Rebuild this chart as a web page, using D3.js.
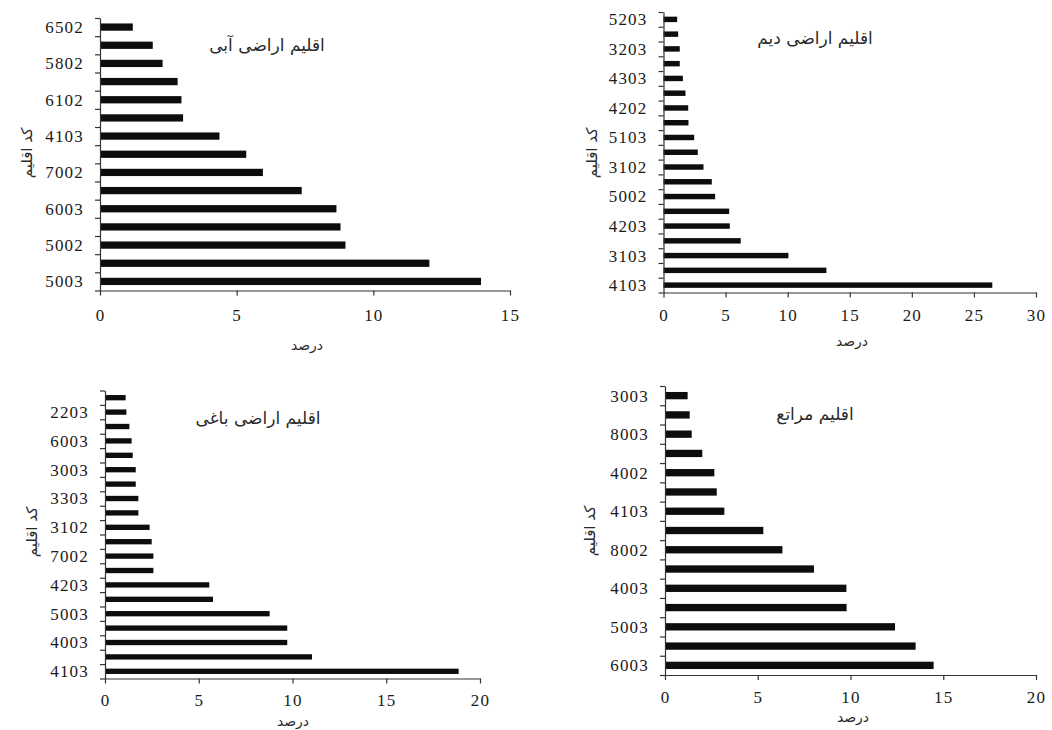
<!DOCTYPE html>
<html>
<head>
<meta charset="utf-8">
<script src="https://cdn.jsdelivr.net/npm/d3@7"></script>
<style>
  html, body { margin: 0; padding: 0; background: #fff; }
  svg { display: block; }
  .num { font-family: "Liberation Serif", "Times New Roman", serif; font-size: 17px; fill: #1a1a1a; letter-spacing: 1.2px; }
  .fa { font-family: "DejaVu Sans", "Noto Sans", sans-serif; fill: #2a2a2a; }
</style>
</head>
<body>
<svg id="chart" width="1052" height="730"></svg>
<script>
// ---- Data ----
// Panel 1: اقلیم اراضی آبی (top to bottom)
const p1Codes  = ["6502", "", "5802", "", "6102", "", "4103", "", "7002", "", "6003", "", "5002", "", "5003"];
const p1Values = [1.2, 1.93, 2.29, 2.84, 2.98, 3.04, 4.37, 5.35, 5.96, 7.38, 8.65, 8.8, 8.98, 12.05, 13.94];
const p1Ticks  = [0, 5, 10, 15];

// Panel 2: اقلیم اراضی دیم
const p2Codes  = ["5203", "", "3203", "", "4303", "", "4202", "", "5103", "", "3102", "", "5002", "", "4203", "", "3103", "", "4103"];
const p2Values = [1.1, 1.18, 1.31, 1.31, 1.56, 1.77, 1.99, 2.01, 2.47, 2.76, 3.22, 3.89, 4.16, 5.29, 5.34, 6.22, 10.06, 13.12, 26.48];
const p2Ticks  = [0, 5, 10, 15, 20, 25, 30];

// Panel 3: اقلیم اراضی باغی
const p3Codes  = ["", "2203", "", "6003", "", "3003", "", "3303", "", "3102", "", "7002", "", "4203", "", "5003", "", "4003", "", "4103"];
const p3Values = [1.1, 1.14, 1.3, 1.42, 1.48, 1.64, 1.64, 1.78, 1.78, 2.38, 2.49, 2.58, 2.58, 5.56, 5.76, 8.78, 9.72, 9.72, 11.04, 18.86];
const p3Ticks  = [0, 5, 10, 15, 20];

// Panel 4: اقلیم مراتع
const p4Codes  = ["3003", "", "8003", "", "4002", "", "4103", "", "8002", "", "4003", "", "5003", "", "6003"];
const p4Values = [1.22, 1.33, 1.44, 2.01, 2.66, 2.79, 3.2, 5.3, 6.33, 8.03, 9.78, 9.79, 12.4, 13.51, 14.48];
const p4Ticks  = [0, 5, 10, 15, 20];

const titles = ["اقلیم اراضی آبی", "اقلیم اراضی دیم", "اقلیم اراضی باغی", "اقلیم مراتع"];
const xLabel = "درصد";
const yLabel = "کد اقلیم";

// ---- Layout ----
const panels = [
  { codes: p1Codes, values: p1Values, ticks: p1Ticks, title: titles[0],
    x0: 100, x1: 510, y0: 18, y1: 290.5, thick: 0.4,
    titlePos: [267, 45], yLabPos: [27, 153], xLabPos: [307, 345], tickDy: 30 },
  { codes: p2Codes, values: p2Values, ticks: p2Ticks, title: titles[1],
    x0: 663.5, x1: 1036, y0: 12, y1: 292.5, thick: 0.37,
    titlePos: [815, 38], yLabPos: [592, 153], xLabPos: [852, 341], tickDy: 28 },
  { codes: p3Codes, values: p3Values, ticks: p3Ticks, title: titles[2],
    x0: 105, x1: 480, y0: 390.5, y1: 678.5, thick: 0.37,
    titlePos: [258, 418], yLabPos: [32, 532], xLabPos: [293, 721], tickDy: 27 },
  { codes: p4Codes, values: p4Values, ticks: p4Ticks, title: titles[3],
    x0: 665, x1: 1036, y0: 386, y1: 675, thick: 0.38,
    titlePos: [815, 414], yLabPos: [590, 531], xLabPos: [853, 717], tickDy: 28 }
];

const svg = d3.select("#chart");

panels.forEach(p => {
  const n = p.values.length;
  const g = svg.append("g");
  const x = d3.scaleLinear()
    .domain([0, d3.max(p.ticks)])
    .range([p.x0, p.x1]);
  const yIdx = d3.range(n);
  const y = d3.scaleBand()
    .domain(yIdx)
    .range([p.y0, p.y1])
    .paddingInner(1 - p.thick)
    .paddingOuter((1 - p.thick) / 2);
  const yb = d3.scaleLinear().domain([0, n]).range([p.y0, p.y1]);

  // bars
  g.selectAll("rect.bar")
    .data(p.values)
    .join("rect")
    .attr("class", "bar")
    .attr("x", x(0))
    .attr("y", (d, i) => y(i))
    .attr("width", d => x(d) - x(0))
    .attr("height", y.bandwidth())
    .attr("fill", "#0d0d0d");

  // x axis
  const xAxis = d3.axisBottom(x)
    .tickValues(p.ticks)
    .tickSize(5)
    .tickSizeOuter(0)
    .tickFormat(d3.format("d"));
  const xg = g.append("g")
    .attr("transform", `translate(0,${p.y1})`)
    .call(xAxis);
  xg.select(".domain").attr("stroke", "#333").attr("stroke-width", 1.2);
  xg.selectAll(".tick line").attr("stroke", "#333").attr("stroke-width", 1.2);
  xg.selectAll(".tick text")
    .attr("class", "num")
    .attr("font-size", null)
    .attr("font-family", null)
    .attr("fill", null)
    .attr("y", null)
    .attr("dy", null)
    .attr("transform", `translate(0,${p.tickDy})`);

  // y axis: boundary ticks
  const yAxis = d3.axisLeft(yb)
    .tickValues(d3.range(n + 1))
    .tickSize(5)
    .tickSizeOuter(0)
    .tickFormat("");
  const yg = g.append("g")
    .attr("transform", `translate(${p.x0},0)`)
    .call(yAxis);
  yg.select(".domain").attr("stroke", "#333").attr("stroke-width", 1.2);
  yg.selectAll(".tick line").attr("stroke", "#333").attr("stroke-width", 1.2);

  // y category labels (centered on bars)
  g.selectAll("text.cat")
    .data(p.codes.map((c, i) => ({ c, i })).filter(d => d.c !== ""))
    .join("text")
    .attr("class", "num cat")
    .attr("x", p.x0 - 16)
    .attr("y", d => y(d.i) + y.bandwidth() / 2)
    .attr("dy", "0.35em")
    .attr("text-anchor", "end")
    .text(d => d.c);

  // title
  g.append("text")
    .attr("class", "fa")
    .attr("x", p.titlePos[0])
    .attr("y", p.titlePos[1])
    .attr("dy", "0.35em")
    .attr("text-anchor", "middle")
    .attr("font-size", 17)
    .text(p.title);

  // x label
  g.append("text")
    .attr("class", "fa")
    .attr("x", p.xLabPos[0])
    .attr("y", p.xLabPos[1])
    .attr("dy", "0.35em")
    .attr("text-anchor", "middle")
    .attr("font-size", 14)
    .text(xLabel);

  // y label
  g.append("text")
    .attr("class", "fa")
    .attr("transform", `translate(${p.yLabPos[0]},${p.yLabPos[1]}) rotate(-90)`)
    .attr("dy", "0.35em")
    .attr("text-anchor", "middle")
    .attr("font-size", 15)
    .text(yLabel);
});
</script>
</body>
</html>
